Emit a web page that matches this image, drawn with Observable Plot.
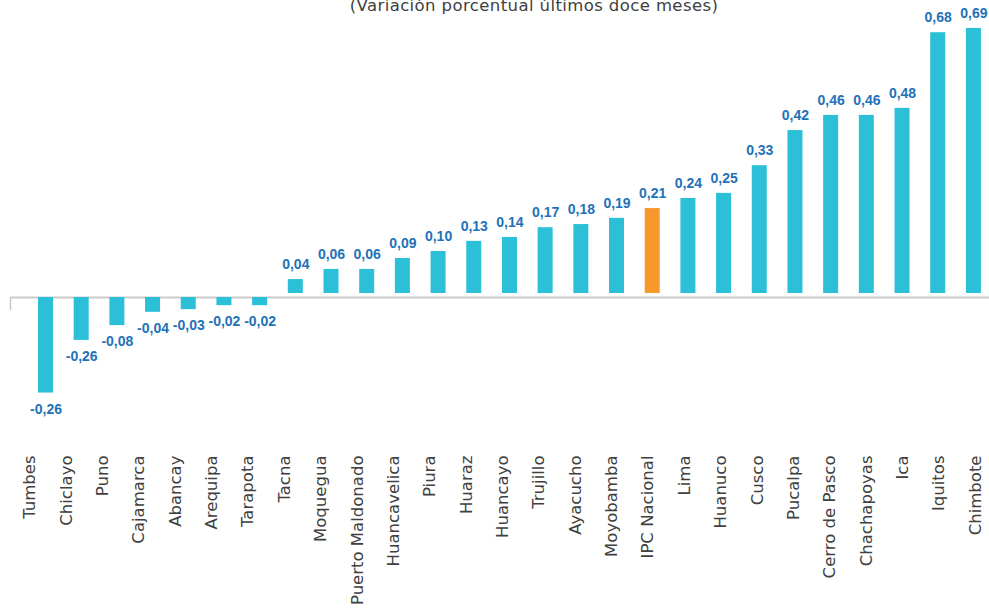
<!DOCTYPE html>
<html>
<head>
<meta charset="utf-8">
<script src="https://cdn.jsdelivr.net/npm/d3@7"></script>
<script src="https://cdn.jsdelivr.net/npm/@observablehq/plot@0.6"></script>
<style>
  html, body { margin: 0; padding: 0; background: #fff; }
  #wrap { position: relative; width: 989px; height: 612px; overflow: hidden; }
  #sub { position: absolute; top: -2px; left: 534px; transform: translateX(-50%);
         font-family: "DejaVu Sans", sans-serif; font-size: 16.5px; letter-spacing: 0.4px; line-height: 1; color: #404040; white-space: nowrap; }
  #chart, #ticks { position: absolute; top: 0; left: 0; }
</style>
</head>
<body>
<div id="wrap">
  <div id="chart"></div>
  <div id="ticks"></div>
  <div id="sub">(Variación porcentual últimos doce meses)</div>
</div>
<script>
const categories = ["Tumbes","Chiclayo","Puno","Cajamarca","Abancay","Arequipa","Tarapota","Tacna","Moquegua","Puerto Maldonado","Huancavelica","Piura","Huaraz","Huancayo","Trujillo","Ayacucho","Moyobamba","IPC Nacional","Lima","Huanuco","Cusco","Pucalpa","Cerro de Pasco","Chachapoyas","Ica","Iquitos","Chimbote"];
// bar lengths as drawn in the reference
const values = [-0.245,-0.110,-0.072,-0.038,-0.031,-0.021,-0.021,0.046,0.072,0.072,0.100,0.118,0.144,0.154,0.179,0.187,0.203,0.228,0.254,0.267,0.338,0.428,0.467,0.467,0.485,0.679,0.690];
// data labels as printed in the reference
const labels = ["-0,26","-0,26","-0,08","-0,04","-0,03","-0,02","-0,02","0,04","0,06","0,06","0,09","0,10","0,13","0,14","0,17","0,18","0,19","0,21","0,24","0,25","0,33","0,42","0,46","0,46","0,48","0,68","0,69"];
const highlight = "IPC Nacional";

const data = categories.map((c, i) => ({region: c, value: values[i], label: labels[i]}));
const pos = data.filter(d => d.value >= 0);
const neg = data.filter(d => d.value < 0);
const fill = d => d.region === highlight ? "#f7982d" : "#2bc0d8";

const leftTick = (index, scales, vals, dims) => {
  const y0 = scales.y(0);
  return d3.create("svg:line")
    .attr("x1", dims.marginLeft).attr("x2", dims.marginLeft)
    .attr("y1", y0).attr("y2", y0 + 13)
    .attr("stroke", "#c8c8c8").attr("stroke-width", 1.5).node();
};

const labelFont = {fill: "#1f72b8", fontWeight: "bold", fontSize: 14, fontFamily: "Liberation Sans, sans-serif", lineAnchor: "middle"};

const plot = Plot.plot({
  width: 989,
  height: 612,
  marginLeft: 10.5,
  marginRight: 0,
  marginTop: 20,
  marginBottom: 167,
  x: {domain: categories, range: [10.5, 1008.4], paddingInner: 0.5797, paddingOuter: 0.7705, round: false, axis: null},
  y: {domain: [-0.3795, 0.7103], axis: null},
  style: {background: "transparent", overflow: "visible"},
  marks: [
    Plot.ruleY([0], {stroke: "#cccccc", strokeWidth: 2}),
    leftTick,
    Plot.barY(pos, {x: "region", y: "value", fill, insetBottom: 4}),
    Plot.barY(neg, {x: "region", y: "value", fill}),
    Plot.text(pos, {x: "region", y: "value", text: "label", dy: -15, ...labelFont}),
    Plot.text(neg, {x: "region", y: "value", text: "label", dy: 16, ...labelFont})
  ]
});
document.getElementById("chart").appendChild(plot);

// category labels sit on a slightly wider spacing than the bars in the reference
const ticks = Plot.plot({
  width: 989,
  height: 612,
  marginLeft: 0,
  marginRight: 0,
  marginTop: 20,
  marginBottom: 167,
  x: {type: "point", domain: categories, range: [29.5, 975], padding: 0, round: false, axis: null},
  style: {background: "transparent", overflow: "visible"},
  marks: [
    Plot.axisX({anchor: "bottom", tickSize: 0, tickPadding: 10, tickRotate: -90, label: null,
      fontSize: 16.5, fontFamily: "DejaVu Sans, sans-serif", fill: "#404040"})
  ]
});
document.getElementById("ticks").appendChild(ticks);
</script>
</body>
</html>
